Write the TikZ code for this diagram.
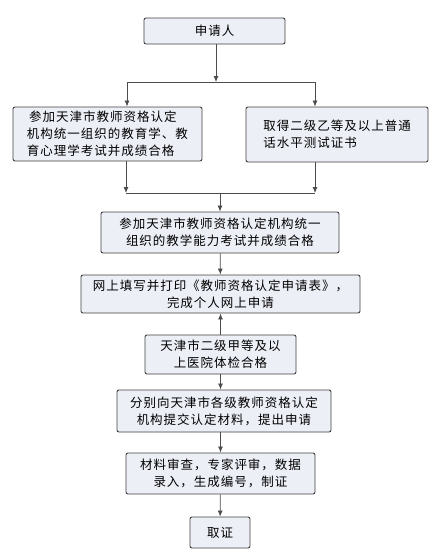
\documentclass[tikz,border=0pt]{standalone}
\usepackage{fontspec}
\setmainfont{Noto Sans CJK SC}[LetterSpace=8]
\usetikzlibrary{positioning,calc,arrows.meta}
\definecolor{boxfill}{RGB}{237,239,247}

\begin{document}
\begin{tikzpicture}[x=1pt, y=-1pt,
% Node styles
 box/.style={draw=black!75, line width=0.9pt, rounded corners=2pt, fill=boxfill,
 font=\fontsize{12.5pt}{17pt}\selectfont, inner sep=2pt, align=center},
% Edge styles
 edge/.style={draw=black!70, line width=0.8pt},
 arr/.style={edge, -{Latex[length=6pt, width=5pt]}}
]
\useasboundingbox (0,0) rectangle (438,558);
% Applicant
\node[box, minimum width=141pt, minimum height=26pt] (apply) at (214.5,31) {申请人};
% Two requirements side by side
\node[box, minimum width=189pt, minimum height=54pt, align=left] (pedagogy) at (107.5,134)
 {\,参加天津市教师资格认定\\机构统一组织的教育学、教\\育心理学考试并成绩合格};
\node[box, minimum width=182pt, minimum height=55pt, align=left] (mandarin) at (337,134.5)
 {取得二级乙等及以上普通\\话水平测试证书};
% Main column
\node[box, minimum width=238pt, minimum height=41pt] (ability) at (220,232.5)
 {参加天津市教师资格认定机构统一\\组织的教学能力考试并成绩合格};
\node[box, minimum width=279pt, minimum height=38pt] (online) at (220.5,294)
 {网上填写并打印《教师资格认定申请表》，\\完成个人网上申请};
\node[box, minimum width=151pt, minimum height=39pt] (health) at (220.5,354.5)
 {天津市二级甲等及以\\上医院体检合格};
\node[box, minimum width=214pt, minimum height=42pt] (submit) at (224,411)
 {分别向天津市各级教师资格认定\\机构提交认定材料，提出申请};
\node[box, minimum width=189pt, minimum height=41pt] (review) at (220.5,473.5)
 {材料审查，专家评审，数据\\录入，生成编号，制证};
\node[box, minimum width=60pt, minimum height=31pt] (cert) at (220,532.5) {取证};
% Split and merge points
\coordinate (split) at (216,82);
\coordinate (splitL) at (127,82);
\coordinate (splitR) at (315,82);
\coordinate (merge) at (220,193);
\coordinate (mergeL) at (126,193);
\coordinate (mergeR) at (315,193);
% Connect nodes with edges
\draw[arr] (apply.south -| split) -- (split);
\draw[edge] (splitL) -- (splitR);
\draw[arr] (splitL) -- (splitL |- pedagogy.north);
\draw[arr] (splitR) -- (splitR |- mandarin.north);
\draw[arr] (pedagogy.south -| mergeL) -- (mergeL);
\draw[arr] (mandarin.south -| mergeR) -- (mergeR);
\draw[edge] (mergeL) -- (mergeR);
\draw[arr] (merge) -- (ability.north);
\draw[arr] (ability) -- (online);
\draw[arr] (health) -- (online);
\draw[arr] (health) -- (health |- submit.north);
\draw[arr] (review.north |- submit.south) -- (review);
\draw[arr] (review) -- (cert);
\end{tikzpicture}
\end{document}
